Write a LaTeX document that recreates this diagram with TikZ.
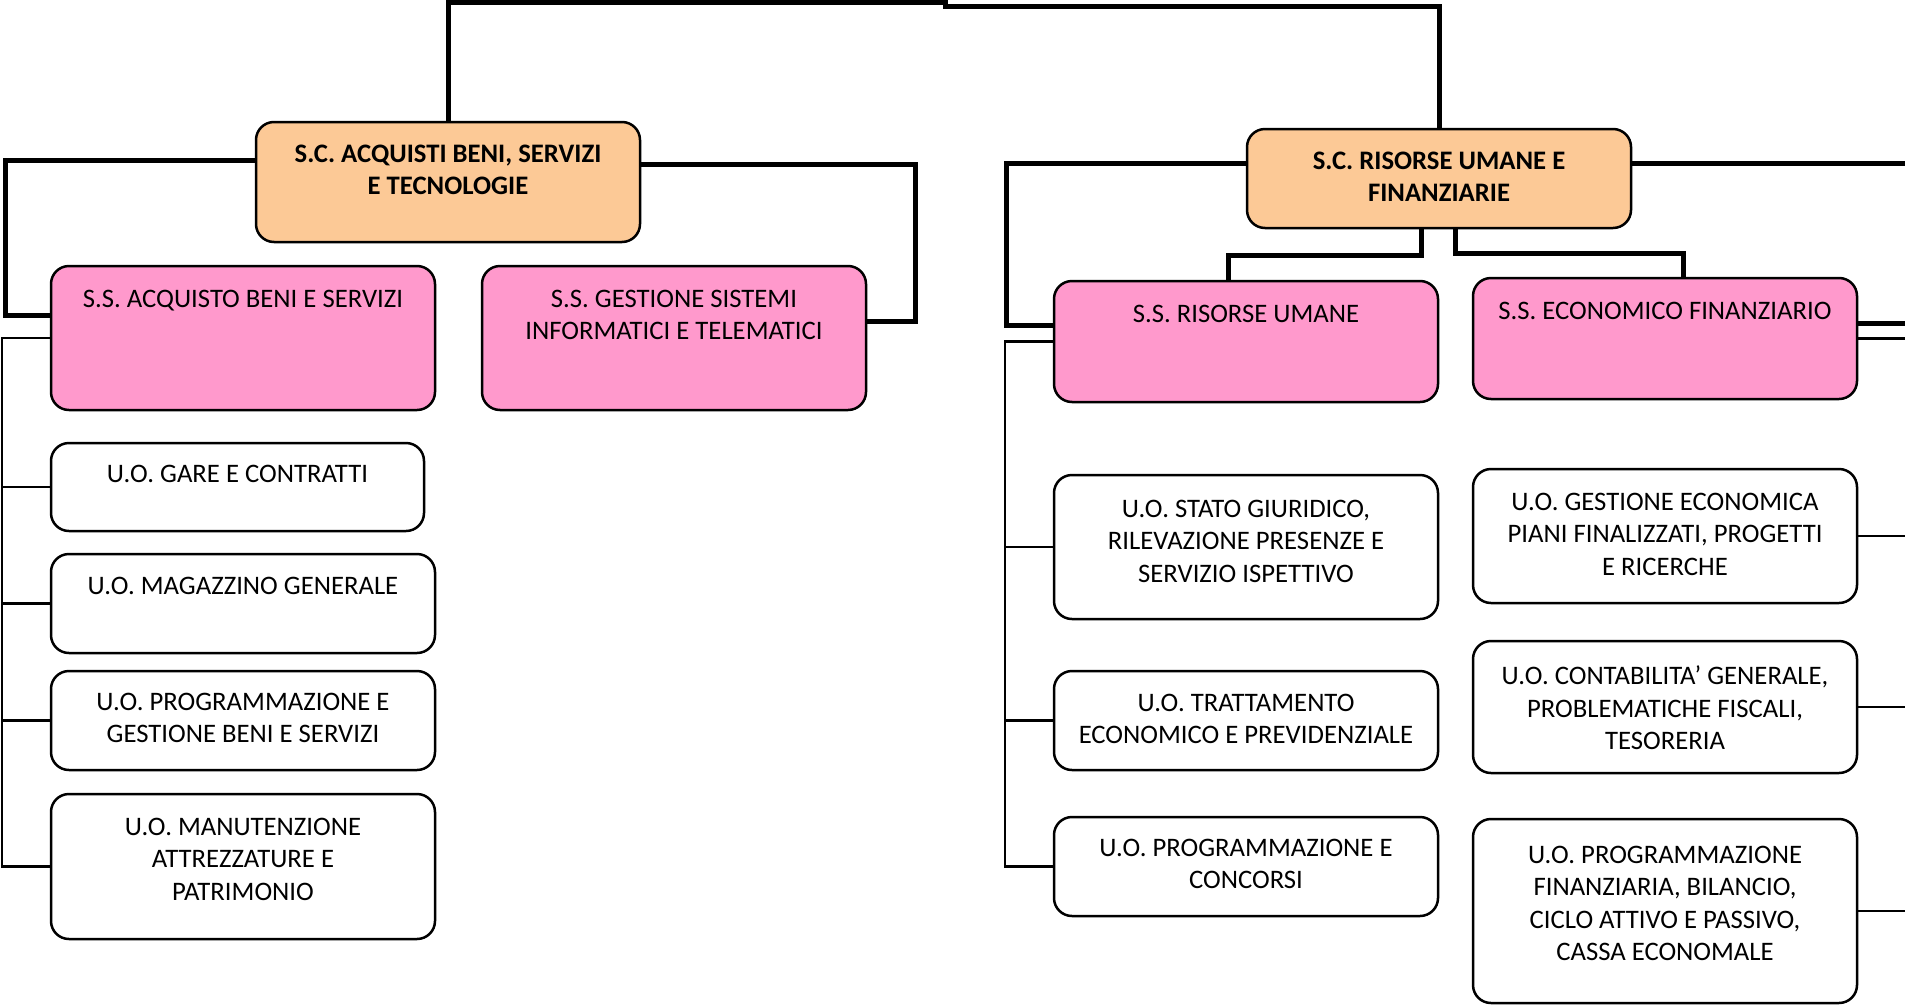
\documentclass[tikz,border=0pt]{standalone}
\usepackage{fontspec}
\setmainfont{Carlito}
\definecolor{scpeach}{HTML}{FCC996}
\definecolor{sspink}{HTML}{FF99CC}
\tikzset{
  box/.style={draw, line width=2.5pt, rounded corners=18pt, inner sep=0pt, minimum width=384pt},
  scbox/.style={box, fill=scpeach},
  ssbox/.style={box, fill=sspink},
  uobox/.style={box, fill=white},
  txt/.style={anchor=north, align=center, inner sep=0pt, font=\fontsize{26.7}{32.5}\selectfont},
  boldtxt/.style={txt, font=\fontsize{26.7}{32.5}\selectfont\bfseries},
  trunk/.style={line width=5pt},
  branch/.style={line width=2.2pt},
}

\begin{document}
\begin{tikzpicture}[x=1pt,y=-1pt]
  \useasboundingbox (0,0) rectangle (1905,1004);
  \clip (0,0) rectangle (1905,1004);
  % strutture complesse
  \node[scbox, minimum height=120pt] (sc1) at (448,182) {};
  \node[scbox, minimum height=99pt] (sc2) at (1439,178.5) {};
  % strutture semplici
  \node[ssbox, minimum height=144pt] (ss1) at (243,338) {};
  \node[ssbox, minimum height=144pt] (ss2) at (674,338) {};
  \node[ssbox, minimum height=121pt] (ss3) at (1246,341.5) {};
  \node[ssbox, minimum height=121pt] (ss4) at (1665,338.5) {};
  % unita operative
  \node[uobox, minimum width=373pt, minimum height=88pt] (gare) at (237.5,487) {};
  \node[uobox, minimum height=99pt] (mag) at (243,603.5) {};
  \node[uobox, minimum height=99pt] (progb) at (243,720.5) {};
  \node[uobox, minimum height=145pt] (manut) at (243,866.5) {};
  \node[uobox, minimum height=144pt] (stato) at (1246,547) {};
  \node[uobox, minimum height=99pt] (tratt) at (1246,720.5) {};
  \node[uobox, minimum height=99pt] (pconc) at (1246,866.5) {};
  \node[uobox, minimum height=134pt] (gest) at (1665,536) {};
  \node[uobox, minimum height=132pt] (contab) at (1665,707) {};
  \node[uobox, minimum height=184pt] (pfin) at (1665,911) {};
  % testi
  \node[boldtxt] (sc1txt) at ([yshift=-24pt]sc1.north) {S.C. ACQUISTI BENI, SERVIZI\\E TECNOLOGIE};
  \node[boldtxt] (sc2txt) at ([yshift=-24pt]sc2.north) {S.C. RISORSE UMANE E\\FINANZIARIE};
  \node[txt] (ss1txt) at ([yshift=-25pt]ss1.north) {S.S. ACQUISTO BENI E SERVIZI};
  \node[txt] (ss2txt) at ([yshift=-25pt]ss2.north) {S.S. GESTIONE SISTEMI\\INFORMATICI E TELEMATICI};
  \node[txt] (ss3txt) at ([yshift=-25pt]ss3.north) {S.S. RISORSE UMANE};
  \node[txt] (ss4txt) at ([yshift=-25pt]ss4.north) {S.S. ECONOMICO FINANZIARIO};
  \node[txt] (garetxt) at ([yshift=-23pt]gare.north) {U.O. GARE E CONTRATTI};
  \node[txt] (magtxt) at ([yshift=-24pt]mag.north) {U.O. MAGAZZINO GENERALE};
  \node[txt] (progbtxt) at ([yshift=-23pt]progb.north) {U.O. PROGRAMMAZIONE E\\GESTIONE BENI E SERVIZI};
  \node[txt] (manuttxt) at ([yshift=-25pt]manut.north) {U.O. MANUTENZIONE\\ATTREZZATURE E\\PATRIMONIO};
  \node[txt] (statotxt) at ([yshift=-26pt]stato.north) {U.O. STATO GIURIDICO,\\RILEVAZIONE PRESENZE E\\SERVIZIO ISPETTIVO};
  \node[txt] (tratttxt) at ([yshift=-24pt]tratt.north) {U.O. TRATTAMENTO\\ECONOMICO E PREVIDENZIALE};
  \node[txt] (pconctxt) at ([yshift=-23pt]pconc.north) {U.O. PROGRAMMAZIONE E\\CONCORSI};
  \node[txt] (gesttxt) at ([yshift=-25pt]gest.north) {U.O. GESTIONE ECONOMICA\\PIANI FINALIZZATI, PROGETTI\\E RICERCHE};
  \node[txt] (contabtxt) at ([yshift=-26pt]contab.north) {U.O. CONTABILITA’ GENERALE,\\PROBLEMATICHE FISCALI,\\TESORERIA};
  \node[txt] (pfintxt) at ([yshift=-28pt]pfin.north) {U.O. PROGRAMMAZIONE\\FINANZIARIA, BILANCIO,\\CICLO ATTIVO E PASSIVO,\\CASSA ECONOMALE};
  % collegamenti spessi
  \draw[trunk] (sc1.north) |- (945,2) -- (945,6) -| (sc2.north);
  \draw[trunk] (sc1.west |- 0,160) -| (5,315) -- (ss1.west |- 0,315);
  \draw[trunk] (sc1.east |- 0,164) -| (915,321) -- (ss2.east |- 0,321);
  \draw[trunk] (sc2.west |- 0,163) -| (1006,325) -- (ss3.west |- 0,325);
  \draw[trunk] (sc2.east |- 0,163) -| (1915,323) -- (ss4.east |- 0,323);
  \draw[trunk] ([xshift=-18pt]sc2.south) |- (1228,255) -- (ss3.north -| 1228,0);
  \draw[trunk] ([xshift=16pt]sc2.south) |- (1683,253) -- (ss4.north -| 1683,0);
  % collegamenti sottili
  \draw[branch] (ss1.west) -- ++(-48,0) |- (manut.west);
  \foreach \n in {gare,mag,progb} \draw[branch] (\n.west) -- ++(-48,0);
  \draw[branch] (ss3.west) -- ++(-48,0) |- (pconc.west);
  \foreach \n in {stato,tratt} \draw[branch] (\n.west) -- ++(-48,0);
  \draw[branch] (ss4.east) -- ++(58,0) |- (pfin.east);
  \foreach \n in {gest,contab} \draw[branch] (\n.east) -- ++(58,0);
\end{tikzpicture}
\end{document}
